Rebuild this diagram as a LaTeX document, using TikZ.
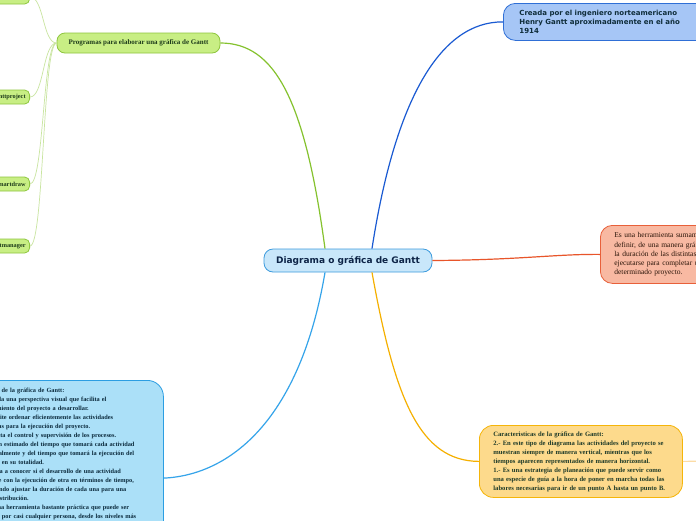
\documentclass[tikz,border=0pt]{standalone}
\usepackage{fontspec}
\setmainfont{Liberation Serif}
\newfontfamily\dejavu{DejaVu Sans}
\definecolor{cnf}{HTML}{C9E7FA}
\definecolor{cnb}{HTML}{3C9BDD}
\definecolor{cnt}{HTML}{0D2447}
\definecolor{trf}{HTML}{A6C6F6}
\definecolor{trb}{HTML}{2F6FD6}
\definecolor{trt}{HTML}{0F2D3A}
\definecolor{saf}{HTML}{F8B9A2}
\definecolor{sab}{HTML}{E8603A}
\definecolor{sat}{HTML}{2A1408}
\definecolor{yef}{HTML}{FDDA8C}
\definecolor{yeb}{HTML}{F5B50A}
\definecolor{yet}{HTML}{1E3A28}
\definecolor{lbf}{HTML}{ABE0F8}
\definecolor{lbb}{HTML}{2C9EE2}
\definecolor{lbt}{HTML}{0B2A3C}
\definecolor{grf}{HTML}{C8EE84}
\definecolor{grb}{HTML}{8EC63E}
\definecolor{grt}{HTML}{1D3A1A}
\definecolor{cgr}{HTML}{85C22E}
\definecolor{cbl}{HTML}{1A5AD2}
\definecolor{cre}{HTML}{E8552A}
\definecolor{cye}{HTML}{F5B000}
\definecolor{clb}{HTML}{35A4EA}
\definecolor{clg}{HTML}{C9E5A0}
\definecolor{cyl}{HTML}{FCDCA6}
\begin{document}
\begin{tikzpicture}[x=1pt,y=-1pt,
  box/.style={draw, line width=0.8pt, inner ysep=0pt},
  cbox/.style={box, draw=cnb, fill=cnf, rounded corners=9pt, text=cnt,
    font=\dejavu\bfseries\fontsize{9}{11}\selectfont, minimum width=168pt, minimum height=23pt},
  trbox/.style={box, draw=trb, fill=trf, rounded corners=12pt, text=trt, anchor=north west,
    font=\dejavu\bfseries\fontsize{7}{9}\selectfont, minimum height=37pt, inner xsep=16pt,
    text width=210pt, align=left},
  sabox/.style={box, draw=sab, fill=saf, rounded corners=12pt, text=sat, anchor=north west,
    font=\fontsize{7.5}{9.2}\selectfont, minimum height=58pt, inner xsep=14pt,
    text width=220pt, align=left},
  yebox/.style={box, draw=yeb, fill=yef, rounded corners=14pt, text=yet, anchor=north west,
    font=\bfseries\fontsize{6.6}{9}\selectfont, minimum height=72pt, inner xsep=14pt,
    text width=175pt, align=left},
  lbbox/.style={box, draw=lbb, fill=lbf, rounded corners=16pt, text=lbt, anchor=north west,
    font=\bfseries\fontsize{6.3}{9}\selectfont, inner xsep=10pt, inner ysep=8pt,
    text width=177pt, align=left},
  grbox/.style={box, draw=grb, fill=grf, rounded corners=8pt, text=grt,
    font=\bfseries\fontsize{7}{8}\selectfont, minimum width=163pt, minimum height=20pt},
  chbox/.style={box, draw=grb, fill=grf, rounded corners=5pt, text=grt, anchor=east,
    font=\bfseries\fontsize{6.3}{8}\selectfont, minimum height=14pt, inner xsep=4pt},
  main/.style={line width=1.2pt},
  sub/.style={line width=0.7pt, draw=clg}
]
\clip (0,0) rectangle (696,520);
\fill[white] (0,0) rectangle (696,520);

% nodes
\node[grbox] (pg) at (138.5,43) {Programas para elaborar una gráfica de Gantt};
\node[chbox] (c1) at (30,-3) {Microsoft Project};
\node[chbox] (c2) at (30,97) {Ganttproject};
\node[chbox] (c3) at (30,184) {Smartdraw};
\node[chbox] (c4) at (30,246) {Projectmanager};
\node[cbox] (cn) at (348,260.5) {Diagrama o gráfica de Gantt};
\node[trbox] (tr) at (503,3) {Creada por el ingeniero norteamericano\\Henry Gantt aproximadamente en el año\\1914};
\node[sabox] (sa) at (600,225) {Es una herramienta sumamente útil para\\definir, de una manera gráfica,\\la duración de las distintas tareas que deben\\ejecutarse para completar un\\determinado proyecto.};
\node[yebox] (ye) at (479,425) {\mbox{Caracteristicas de la gráfica de Gantt:}\\
\mbox{2.- En este tipo de diagrama las actividades del proyecto se}\\
\mbox{muestran siempre de manera vertical, mientras que los}\\
\mbox{tiempos aparecen representados de manera horizontal.}\\
\mbox{1.- Es una estrategia de planeación que puede servir como}\\
\mbox{una especie de guía a la hora de poner en marcha todas las}\\
\mbox{labores necesarias para ir de un punto A hasta un punto B.}};
\node[lbbox] (lb) at (-34,380) {\mbox{Ventajas de la gráfica de Gantt:}\\
\mbox{1.- Brinda una perspectiva visual que facilita el}\\
\mbox{entendimiento del proyecto a desarrollar.}\\
\mbox{2.- Permite ordenar eficientemente las actividades}\\
\mbox{necesarias para la ejecución del proyecto.}\\
\mbox{3.- Facilita el control y supervisión de los procesos.}\\
\mbox{4.- Da un estimado del tiempo que tomará cada actividad}\\
\mbox{individualmente y del tiempo que tomará la ejecución del}\\
\mbox{proyecto en su totalidad.}\\
\mbox{5.- Ayuda a conocer si el desarrollo de una actividad}\\
\mbox{interfiere con la ejecución de otra en términos de tiempo,}\\
\mbox{permitiendo ajustar la duración de cada una para una}\\
\mbox{mejor distribución.}\\
\mbox{6.- Es una herramienta bastante práctica que puede ser}\\
\mbox{utilizada por casi cualquier persona, desde los niveles más}\\[40pt]\mbox{}};
\coordinate (yend) at (720,461);

% connectors
\draw[sub] (pg.west) .. controls +(-14,0) and +(14,0) .. (c1.east);
\draw[sub] (pg.west) .. controls +(-14,0) and +(14,0) .. (c2.east);
\draw[sub] (pg.west) .. controls +(-14,0) and +(14,0) .. (c3.east);
\draw[sub] (pg.west) .. controls +(-14,0) and +(14,0) .. (c4.east);
\draw[main, cgr] ([xshift=-23pt]cn.north) .. controls (305,100) and (275,43) .. (pg.east);
\draw[main, cbl] ([xshift=24pt]cn.north) .. controls (395,100) and (440,21.5) .. (tr.west);
\draw[main, cre] (cn.east) .. controls (520,260) and (555,254) .. (sa.west);
\draw[main, cye] ([xshift=24pt]cn.south) .. controls (395,400) and (420,461) .. (ye.west);
\draw[main, clb] ([xshift=-23pt]cn.south) .. controls (300,420) and (230,475) .. (lb.east);
\draw[line width=1.2pt, cyl] (ye.east) -- (yend);
\end{tikzpicture}
\end{document}
